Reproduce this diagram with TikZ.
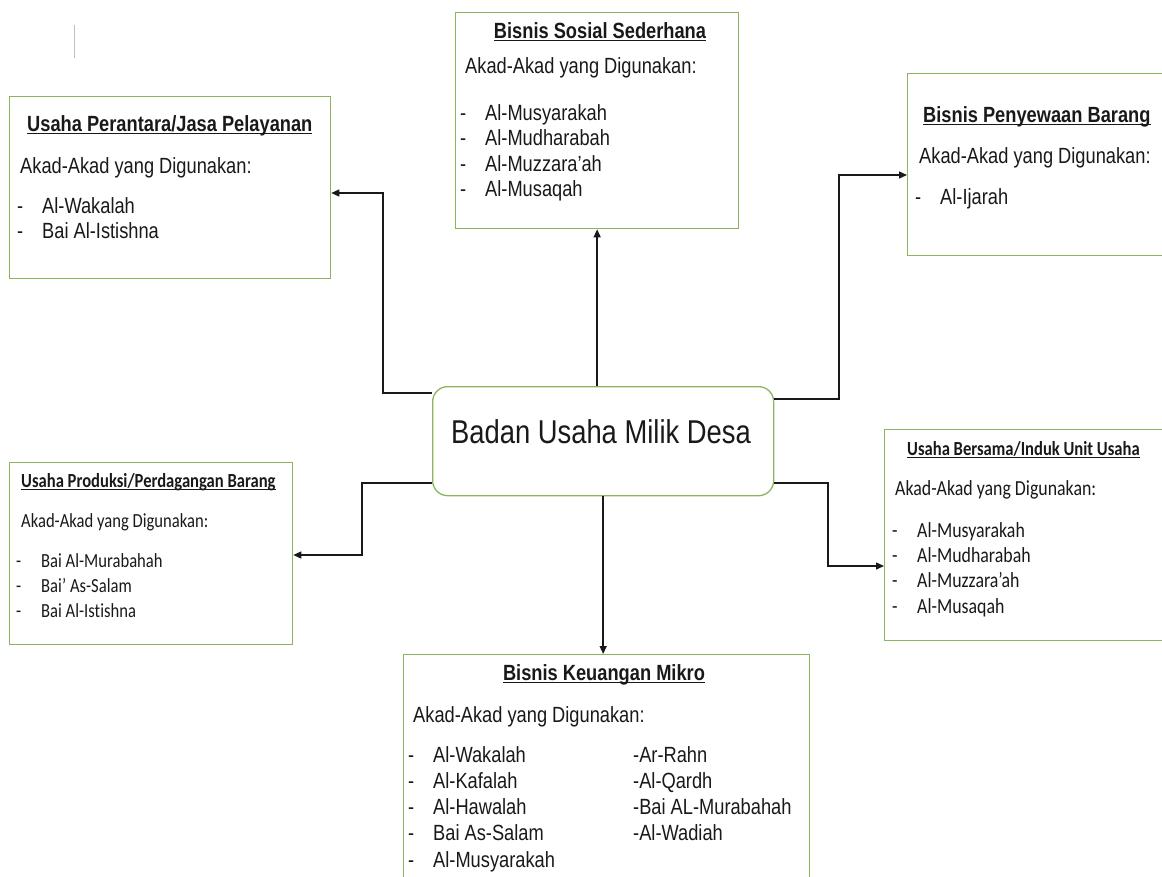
\documentclass[tikz,border=0pt]{standalone}
\usepackage{fontspec}
\setmainfont{Liberation Sans}[FakeStretch=0.83]
\newfontfamily\calfont{Carlito}[FakeStretch=0.83, Ligatures=NoCommon]
\usetikzlibrary{arrows.meta}
\definecolor{boxgreen}{RGB}{140,180,95}
\definecolor{ink}{RGB}{25,25,25}
\newsavebox\ulbox
\newcommand\myul[1]{\sbox\ulbox{#1}\rlap{\rule[-2.6pt]{\wd\ulbox}{1.1pt}}\usebox\ulbox}
\newcommand\itemdash{\makebox[25pt][l]{-}}
\tikzset{
  box/.style={draw=boxgreen, line width=1.3pt, rectangle, inner sep=0pt, anchor=north west},
  ctrbox/.style={draw=boxgreen, line width=1.3pt, rectangle, rounded corners=15pt, inner sep=0pt, anchor=north west},
  ar/.style={font=\fontsize{22}{26}\selectfont, anchor=base west, inner sep=0pt, text=ink},
  arT/.style={font=\fontsize{22}{26}\selectfont\bfseries, anchor=base west, inner sep=0pt, text=ink},
  ca/.style={font=\calfont\fontsize{20}{24}\selectfont, anchor=base west, inner sep=0pt, text=ink},
  caE/.style={font=\calfont\fontsize{21.5}{25}\selectfont, anchor=base west, inner sep=0pt, text=ink},
  caT/.style={font=\calfont\fontsize{20}{24}\selectfont\bfseries, anchor=base west, inner sep=0pt, text=ink},
  conn/.style={draw=ink, line width=1.4pt, -{Triangle[length=8pt,width=7pt]}},
}
\begin{document}
\begin{tikzpicture}[x=1pt,y=-1pt]
\useasboundingbox (0,0) rectangle (1162,876);
\clip (0,0) rectangle (1162,876);

\draw[gray!50, line width=0.8pt] (74,25) -- (74,58);

% centre
\node[ctrbox, minimum width=341, minimum height=109] (ctr) at (432,386) {};
\node[font=\fontsize{33}{38}\selectfont, anchor=base, inner sep=0pt, text=ink] (ctrt) at (601,443) {Badan Usaha Milik Desa};

% A
\node[box, minimum width=321, minimum height=182] (A) at (9,96) {};
\node[arT] (At) at (27,131) {\myul{Usaha Perantara/Jasa Pelayanan}};
\node[ar] (Aa) at (20,173) {Akad-Akad yang Digunakan:};
\node[ar] (A1) at (17,213) {\itemdash Al-Wakalah};
\node[ar] (A2) at (17,238.5) {\itemdash Bai Al-Istishna};

% B
\node[box, minimum width=283, minimum height=216] (B) at (455,12) {};
\node[arT, anchor=base] (Bt) at (600,38) {\myul{Bisnis Sosial Sederhana}};
\node[ar] (Ba) at (465,73) {Akad-Akad yang Digunakan:};
\node[ar] (B1) at (460,120) {\itemdash Al-Musyarakah};
\node[ar] (B2) at (460,145.5) {\itemdash Al-Mudharabah};
\node[ar] (B3) at (460,171) {\itemdash Al-Muzzara'ah};
\node[ar] (B4) at (460,196.5) {\itemdash Al-Musaqah};

% C
\node[box, minimum width=280, minimum height=182] (C) at (907,73) {};
\node[arT] (Ct) at (923,122) {\myul{Bisnis Penyewaan Barang}};
\node[ar] (Ca) at (919,163) {Akad-Akad yang Digunakan:};
\node[ar] (C1) at (915,204) {\itemdash Al-Ijarah};

% D
\node[box, minimum width=283, minimum height=182] (D) at (9,462) {};
\node[caT] (Dt) at (21,487) {\myul{Usaha Produksi/Perdagangan Barang}};
\node[ca] (Da) at (21,527) {Akad-Akad yang Digunakan:};
\node[ca] (D1) at (16,567) {\itemdash Bai Al-Murabahah};
\node[ca] (D2) at (16,592) {\itemdash Bai’ As-Salam};
\node[ca] (D3) at (16,617) {\itemdash Bai Al-Istishna};

% E
\node[box, minimum width=300, minimum height=211] (E) at (884,429) {};
\node[caT] (Et) at (907,455) {\myul{Usaha Bersama/Induk Unit Usaha}};
\node[caE] (Ea) at (895,495) {Akad-Akad yang Digunakan:};
\node[caE] (E1) at (892,537) {\itemdash Al-Musyarakah};
\node[caE] (E2) at (892,562) {\itemdash Al-Mudharabah};
\node[caE] (E3) at (892,587.5) {\itemdash Al-Muzzara’ah};
\node[caE] (E4) at (892,613) {\itemdash Al-Musaqah};

% F
\node[box, minimum width=406, minimum height=260] (F) at (403,654) {};
\node[arT, anchor=base] (Ft) at (604,680) {\myul{Bisnis Keuangan Mikro}};
\node[ar] (Fa) at (413,722) {Akad-Akad yang Digunakan:};
\node[ar] (F1) at (408,762) {\itemdash Al-Wakalah};
\node[ar] (F2) at (408,788.3) {\itemdash Al-Kafalah};
\node[ar] (F3) at (408,814.6) {\itemdash Al-Hawalah};
\node[ar] (F4) at (408,840.9) {\itemdash Bai As-Salam};
\node[ar] (F5) at (408,867.2) {\itemdash Al-Musyarakah};
\node[ar] (F6) at (633,762) {-Ar-Rahn};
\node[ar] (F7) at (633,788.3) {-Al-Qardh};
\node[ar] (F8) at (633,814.6) {-Bai AL-Murabahah};
\node[ar] (F9) at (633,840.9) {-Al-Wadiah};

% connectors
\coordinate (yA) at (0,393);
\coordinate (kA) at (383,193);
\draw[conn] (ctr.west |- yA) -| (kA) -- (A.east |- kA);

\draw[conn] (B.south |- ctr.north) -- (B.south);

\coordinate (yC) at (0,399);
\coordinate (kC) at (839,175);
\draw[conn] (ctr.east |- yC) -| (kC) -- (C.west |- kC);

\coordinate (yD) at (0,483);
\coordinate (kD) at (362,555);
\draw[conn] (ctr.west |- yD) -| (kD) -- (D.east |- kD);

\coordinate (kE) at (828,566);
\draw[conn] (ctr.east |- yD) -| (kE) -- (E.west |- kE);

\draw[conn] (ctr.south) -- (ctr.south |- F.north);
\end{tikzpicture}
\end{document}
